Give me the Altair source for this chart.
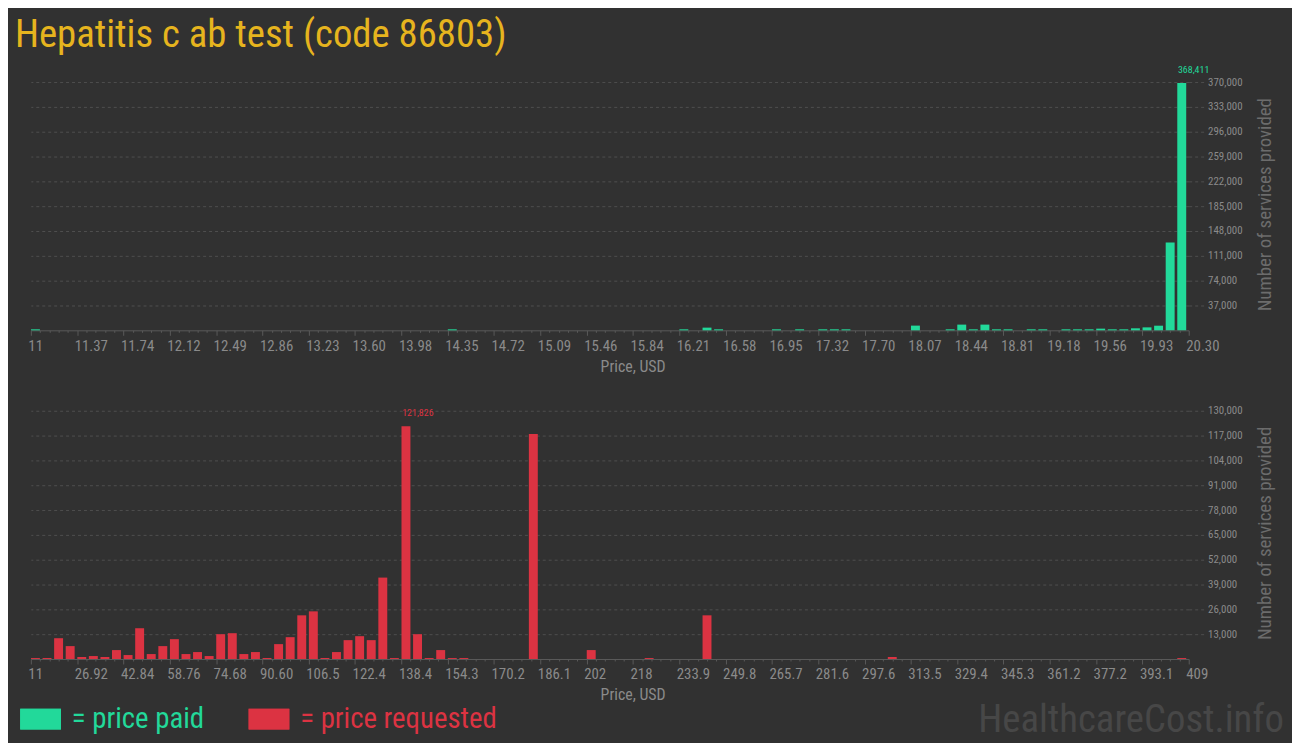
import json
import altair as alt
import pandas as pd

TITLE = "Hepatitis c ab test (code 86803)"
N_BINS = 100
TOP_RANGE = [11.0, 20.30]
BOT_RANGE = [11.0, 409.0]

top_bins = [0, 36, 56, 58, 59, 64, 66, 68, 69, 70, 76, 79, 80, 81, 82, 83, 84, 86, 87, 89,
            90, 91, 92, 93, 94, 95, 96, 97, 98, 99]
top_counts = [1500, 1500, 1500, 4000, 1500, 1500, 1500, 1500, 1500, 1500, 7000, 1500, 8500, 1500,
              8500, 1500, 1500, 1500, 1500, 1500, 1500, 1500, 2500, 1500, 1500, 3000, 4400, 6900,
              131000, 368411]

bot_bins = [0, 1, 2, 3, 4, 5, 6, 7, 8, 9, 10, 11, 12, 13, 14, 15, 16, 17, 18, 19, 20, 21, 22, 23,
            24, 25, 26, 27, 28, 29, 30, 31, 32, 33, 34, 35, 36, 37, 43, 48, 53, 58, 74, 99]
bot_counts = [500, 500, 10900, 6760, 1040, 1560, 1040, 4680, 2080, 16120, 2600, 6760, 10400, 2600,
              3640, 1560, 13000, 13520, 2600, 3640, 520, 7800, 11440, 22880, 24960, 520, 3640, 9880,
              11960, 9880, 42640, 500, 121826, 13000, 500, 4680, 500, 500, 117800, 4680, 500, 22880,
              1040, 500]

top_tick_labels = ["11", "11.37", "11.74", "12.12", "12.49", "12.86", "13.23", "13.60", "13.98",
                   "14.35", "14.72", "15.09", "15.46", "15.84", "16.21", "16.58", "16.95", "17.32",
                   "17.70", "18.07", "18.44", "18.81", "19.18", "19.56", "19.93", "20.30"]
bot_tick_labels = ["11", "26.92", "42.84", "58.76", "74.68", "90.60", "106.5", "122.4", "138.4",
                   "154.3", "170.2", "186.1", "202", "218", "233.9", "249.8", "265.7", "281.6",
                   "297.6", "313.5", "329.4", "345.3", "361.2", "377.2", "393.1", "409"]

top_y_ticks = [37000, 74000, 111000, 148000, 185000, 222000, 259000, 296000, 333000, 370000]
bot_y_ticks = [13000, 26000, 39000, 52000, 65000, 78000, 91000, 104000, 117000, 130000]

legend_labels = ["= price paid", "= price requested"]
WATERMARK = "HealthcareCost.info"

BG = "#313131"
GREEN = "#22d99a"
RED = "#dc3342"
GOLD = "#e6b41e"
NARROW = "Roboto Condensed, Liberation Sans Narrow, DejaVu Sans Condensed, Roboto"
W, H = 1166, 250


def panel(bins, counts, rng, tick_labels, y_ticks, color):
    lo, hi = rng
    w = (hi - lo) / N_BINS
    df = pd.DataFrame({"price": [lo + (b + 0.5) * w for b in bins], "count": counts})
    n_int = len(tick_labels) - 1
    step = (hi - lo) / n_int
    minor_vals = [lo + k * step / 5 for k in range(5 * n_int + 1)]
    r = f"((datum.value - {lo}) / {step})"
    is_major = f"abs({r} - round({r})) < 0.01"
    label_expr = f"{is_major} ? {json.dumps(tick_labels)}[round({r})] : ''"

    x = alt.X(
        "price:Q",
        scale=alt.Scale(domain=[lo, hi], nice=False, zero=False, padding=0),
        axis=alt.Axis(
            values=minor_vals, labelExpr=label_expr, title="Price, USD",
            grid=False, labelFlush=False, labelOverlap=False, labelBound=False,
            labelAlign="left", labelOffset=-3, labelPadding=3, labelFont=NARROW,
            labelFontSize=15, labelColor="#8a8a8a",
            domainColor="#5a5a5a", tickColor="#5a5a5a",
            tickSize={"condition": {"test": is_major, "value": 5}, "value": 2},
            titleFont=NARROW, titleFontSize=16, titleColor="#8a8a8a",
            titleFontWeight="normal", titleX=606, titlePadding=5,
        ),
    )
    y = alt.Y(
        "count:Q",
        scale=alt.Scale(domain=[0, y_ticks[-1]], nice=False, padding=0),
        axis=alt.Axis(
            orient="right", values=y_ticks, labelExpr="format(datum.value, ',')", grid=True,
            gridColor="#4f4f4f", gridDash=[3, 3], domain=False, labelOverlap=False,
            tickSize=17, tickColor="#4f4f4f", tickDash=[3, 3], labelPadding=2,
            labelColor="#8a8a8a", labelFontSize=11, labelFont=NARROW,
            title="Number of services provided", titleColor="#6c6c6c",
            titleFontSize=19, titleFont=NARROW, titleFontWeight="normal",
            titleAngle=270, titleX=76, titleY=123, titleAlign="center",
            titleBaseline="middle",
        ),
    )
    bars = alt.Chart(df).mark_bar(size=9, xOffset=-1.2, color=color).encode(x=x, y=y)
    peak = df[df["count"] == df["count"].max()]
    peak_txt = alt.Chart(peak).mark_text(
        align="left", dx=-5, dy=-13, fontSize=10, color=color, font=NARROW
    ).encode(x=x, y=y, text=alt.Text("count:Q", format=","))
    return bars, peak_txt


top_bars, top_peak = panel(top_bins, top_counts, TOP_RANGE, top_tick_labels, top_y_ticks, GREEN)
bot_bars, bot_peak = panel(bot_bins, bot_counts, BOT_RANGE, bot_tick_labels, bot_y_ticks, RED)

title_mark = alt.Chart(pd.DataFrame({"t": [TITLE]})).mark_text(
    align="left", baseline="alphabetic", fontSize=39, font="Roboto Condensed, Roboto", color=GOLD
).encode(text="t:N", x=alt.value(-16), y=alt.value(-35))

leg_df = pd.DataFrame({"t": legend_labels})
leg_green_box = alt.Chart(leg_df).mark_rect(color=GREEN).encode(
    x=alt.value(-10.7), x2=alt.value(30.3), y=alt.value(300), y2=alt.value(321))
leg_red_box = alt.Chart(leg_df).mark_rect(color=RED).encode(
    x=alt.value(219.3), x2=alt.value(260.3), y=alt.value(300), y2=alt.value(321))
leg_green_txt = alt.Chart(pd.DataFrame({"t": [legend_labels[0]]})).mark_text(
    align="left", baseline="middle", fontSize=29, font="Roboto Condensed, Roboto", color=GREEN
).encode(text="t:N", x=alt.value(41.3), y=alt.value(310))
leg_red_txt = alt.Chart(pd.DataFrame({"t": [legend_labels[1]]})).mark_text(
    align="left", baseline="middle", fontSize=29, font="Roboto Condensed, Roboto", color=RED
).encode(text="t:N", x=alt.value(271.3), y=alt.value(310))
water = alt.Chart(pd.DataFrame({"t": [WATERMARK]})).mark_text(
    align="right", baseline="alphabetic", fontSize=39, font="Roboto Condensed, Roboto", color="#474747"
).encode(text="t:N", x=alt.value(1262), y=alt.value(324))

top = alt.layer(top_bars, top_peak, title_mark).properties(width=W, height=H)
bot = alt.layer(bot_bars, bot_peak, leg_green_box, leg_red_box, leg_green_txt, leg_red_txt,
                water).properties(width=W, height=H)

chart = alt.vconcat(top, bot, spacing=31).properties(
    padding={"left": 7, "top": 6, "right": 8, "bottom": 0}
).configure(background=BG).configure_view(stroke=None)

chart.save("out.html", embed_options={"renderer": "svg", "actions": False})
